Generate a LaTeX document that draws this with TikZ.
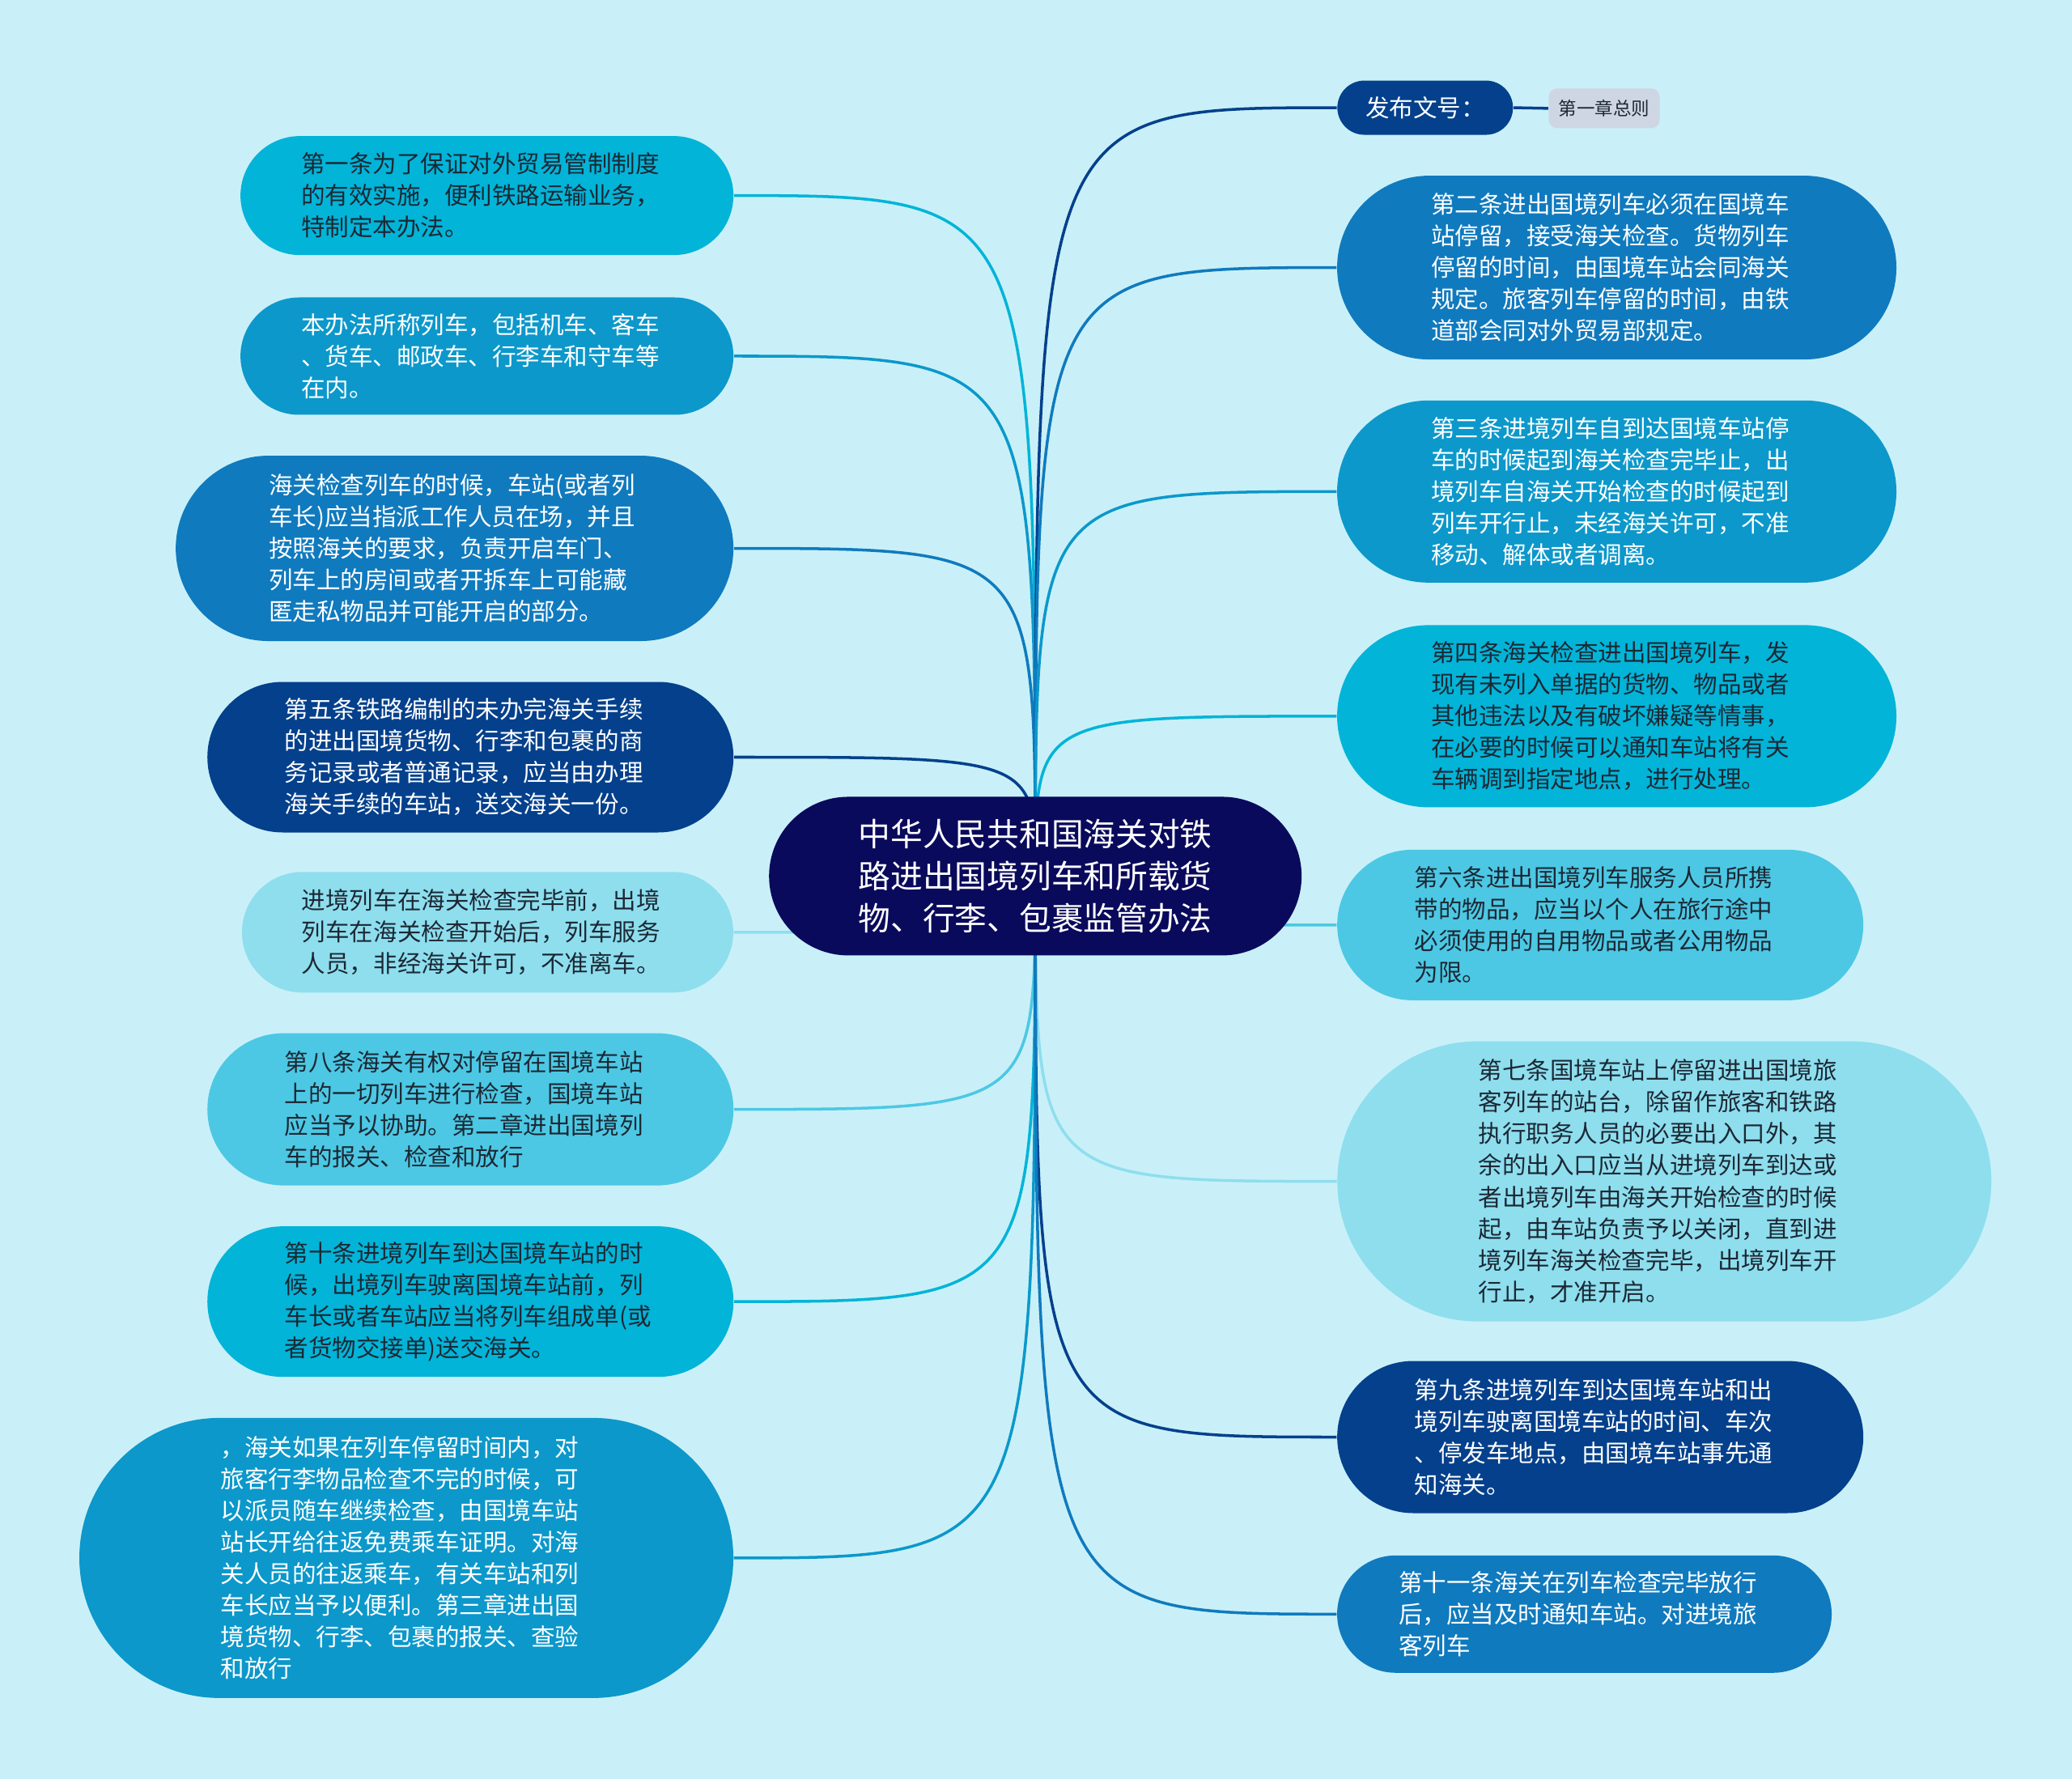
\documentclass[tikz,border=0pt]{standalone}
\usepackage{fontspec}
\newfontfamily\cjk{Noto Sans CJK SC}
\definecolor{bgc}{RGB}{201,240,248}
\definecolor{navy}{RGB}{10,10,92}
\definecolor{dkblue}{RGB}{4,64,140}
\definecolor{midblue}{RGB}{16,122,190}
\definecolor{teal}{RGB}{12,152,203}
\definecolor{cyanA}{RGB}{2,180,216}
\definecolor{sky}{RGB}{76,200,228}
\definecolor{pale}{RGB}{142,222,238}
\definecolor{chip}{RGB}{206,214,228}
\definecolor{ink}{RGB}{28,40,52}
\usetikzlibrary{backgrounds}

\begin{document}
\begin{tikzpicture}[x=0.016327cm,y=-0.016327cm,
    label text/.style={font=\cjk\fontsize{8.4}{11.1}\selectfont,inner sep=0pt},
    leaf/.style={label text,align=left,text width=130.6pt},
    pill/.style 2 args={minimum width=#1cm,minimum height=#2cm,rounded corners=#2*0.5cm},
    link/.style={line width=1pt}]
  \useasboundingbox (0,0) rectangle (1568,1346);

  \node[font=\cjk\fontsize{11.3}{14.8}\selectfont,align=left,inner sep=0pt,
    fill=navy,text=white,pill={6.58}{1.96}] (c) at (783.5,663)
    {中华人民共和国海关对铁\\路进出国境列车和所载货\\物、行李、包裹监管办法};

  % left side
  \node[leaf,fill=cyanA,text=ink,pill={6.09}{1.47}] (l1) at (368.5,148)
    {第一条为了保证对外贸易管制制度\\的有效实施，便利铁路运输业务，\\特制定本办法。};
  \node[leaf,fill=teal,text=white,pill={6.09}{1.45}] (l2) at (368.5,269.5)
    {本办法所称列车，包括机车、客车\\、货车、邮政车、行李车和守车等\\在内。};
  \node[leaf,fill=midblue,text=white,pill={6.89}{2.29}] (l3) at (344,415)
    {海关检查列车的时候，车站(或者列\\车长)应当指派工作人员在场，并且\\按照海关的要求，负责开启车门、\\列车上的房间或者开拆车上可能藏\\匿走私物品并可能开启的部分。};
  \node[leaf,fill=dkblue,text=white,pill={6.50}{1.86}] (l4) at (356,573)
    {第五条铁路编制的未办完海关手续\\的进出国境货物、行李和包裹的商\\务记录或者普通记录，应当由办理\\海关手续的车站，送交海关一份。};
  \node[leaf,fill=pale,text=ink,pill={6.07}{1.49}] (l5) at (369,705.5)
    {进境列车在海关检查完毕前，出境\\列车在海关检查开始后，列车服务\\人员，非经海关许可，不准离车。};
  \node[leaf,fill=sky,text=ink,pill={6.50}{1.88}] (l6) at (356,839.5)
    {第八条海关有权对停留在国境车站\\上的一切列车进行检查，国境车站\\应当予以协助。第二章进出国境列\\车的报关、检查和放行};
  \node[leaf,fill=cyanA,text=ink,pill={6.50}{1.86}] (l7) at (356,985)
    {第十条进境列车到达国境车站的时\\候，出境列车驶离国境车站前，列\\车长或者车站应当将列车组成单(或\\者货物交接单)送交海关。};
  \node[leaf,fill=teal,text=white,pill={8.08}{3.46}] (l8) at (307.5,1179)
    {，海关如果在列车停留时间内，对\\旅客行李物品检查不完的时候，可\\以派员随车继续检查，由国境车站\\站长开给往返免费乘车证明。对海\\关人员的往返乘车，有关车站和列\\车长应当予以便利。第三章进出国\\境货物、行李、包裹的报关、查验\\和放行};

  % right side
  \node[label text,fill=dkblue,text=white,pill={2.17}{0.67}] (fb) at (1078.5,81.5) {发布文号：};
  \node[font=\cjk\fontsize{6.4}{8}\selectfont,inner sep=0pt,fill=chip,text=ink,
    minimum width=1.37cm,minimum height=0.49cm,rounded corners=0.1cm] (z1) at (1214,82) {第一章总则};
  \node[leaf,fill=midblue,text=white,pill={6.91}{2.27}] (r1) at (1223.5,202.5)
    {第二条进出国境列车必须在国境车\\站停留，接受海关检查。货物列车\\停留的时间，由国境车站会同海关\\规定。旅客列车停留的时间，由铁\\道部会同对外贸易部规定。};
  \node[leaf,fill=teal,text=white,pill={6.91}{2.25}] (r2) at (1223.5,372)
    {第三条进境列车自到达国境车站停\\车的时候起到海关检查完毕止，出\\境列车自海关开始检查的时候起到\\列车开行止，未经海关许可，不准\\移动、解体或者调离。};
  \node[leaf,fill=cyanA,text=ink,pill={6.91}{2.25}] (r3) at (1223.5,542)
    {第四条海关检查进出国境列车，发\\现有未列入单据的货物、物品或者\\其他违法以及有破坏嫌疑等情事，\\在必要的时候可以通知车站将有关\\车辆调到指定地点，进行处理。};
  \node[leaf,fill=sky,text=ink,pill={6.50}{1.86}] (r4) at (1211,700)
    {第六条进出国境列车服务人员所携\\带的物品，应当以个人在旅行途中\\必须使用的自用物品或者公用物品\\为限。};
  \node[leaf,fill=pale,text=ink,pill={8.08}{3.46}] (r5) at (1259.5,894)
    {第七条国境车站上停留进出国境旅\\客列车的站台，除留作旅客和铁路\\执行职务人员的必要出入口外，其\\余的出入口应当从进境列车到达或\\者出境列车由海关开始检查的时候\\起，由车站负责予以关闭，直到进\\境列车海关检查完毕，出境列车开\\行止，才准开启。};
  \node[leaf,fill=dkblue,text=white,pill={6.50}{1.88}] (r6) at (1211,1087.5)
    {第九条进境列车到达国境车站和出\\境列车驶离国境车站的时间、车次\\、停发车地点，由国境车站事先通\\知海关。};
  \node[leaf,fill=midblue,text=white,pill={6.11}{1.45}] (r7) at (1199,1221.5)
    {第十一条海关在列车检查完毕放行\\后，应当及时通知车站。对进境旅\\客列车};

  \begin{scope}[on background layer]
    \fill[bgc] (0,0) rectangle (1568,1346);
    \foreach \n/\col in {l1/cyanA,l2/teal,l3/midblue,l4/dkblue,l5/pale,l6/sky,l7/cyanA,l8/teal}
      \draw[link,\col] (c.center) .. controls (c.center |- \n.east) .. (\n.east);
    \foreach \n/\col in {fb/dkblue,r1/midblue,r2/teal,r3/cyanA,r4/sky,r5/pale,r6/dkblue,r7/midblue}
      \draw[link,\col] (c.center) .. controls (c.center |- \n.west) .. (\n.west);
    \draw[link,dkblue] (fb.east) -- (z1.west);
  \end{scope}
\end{tikzpicture}
\end{document}
